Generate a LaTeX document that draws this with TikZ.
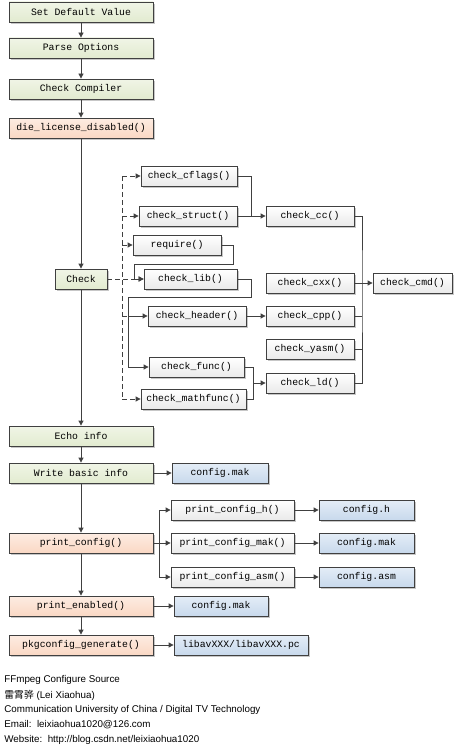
\documentclass[tikz,border=0pt]{standalone}
\usepackage{fontspec}
\setmainfont{Liberation Sans}
\setmonofont{Liberation Mono}
\newfontfamily\cjk{Noto Sans CJK SC}
\usetikzlibrary{arrows.meta,shadows,calc}

\begin{document}
\begin{tikzpicture}[x=1pt, y=-1pt, thick]

  % Define Colors
  \definecolor{linegray}{RGB}{64,64,64}
  \definecolor{greentop}{RGB}{240,245,230}
  \definecolor{greenbot}{RGB}{226,235,208}
  \definecolor{orangetop}{RGB}{253,236,226}
  \definecolor{orangebot}{RGB}{250,216,196}
  \definecolor{bluetop}{RGB}{228,237,247}
  \definecolor{bluebot}{RGB}{200,217,236}
  \definecolor{whitebot}{RGB}{234,234,234}

  % Node styles
  \tikzstyle{cbox}=[rectangle, draw=linegray, line width=0.8pt, minimum height=20pt, inner sep=0pt,
    font=\ttfamily\fontsize{9.8}{10}\selectfont,
    drop shadow={shadow xshift=2pt, shadow yshift=-2pt, fill=black!22, opacity=1}]
  \tikzstyle{cgreen}=[cbox, top color=greentop, bottom color=greenbot, minimum width=144pt]
  \tikzstyle{corange}=[cbox, top color=orangetop, bottom color=orangebot, minimum width=144pt]
  \tikzstyle{cblue}=[cbox, top color=bluetop, bottom color=bluebot]
  \tikzstyle{cwhite}=[cbox, top color=white, bottom color=whitebot]

  \tikzstyle{line}=[draw=linegray, line width=0.8pt]
  \tikzstyle{link}=[line, -{Triangle[length=5pt, width=5pt]}]
  \tikzstyle{dline}=[line, dash pattern=on 5pt off 3pt]
  \tikzstyle{dlink}=[dline, -{Triangle[length=5pt, width=5pt]}]
  \tikzstyle{footer}=[anchor=west, inner sep=0pt, font=\fontsize{9.8}{10}\selectfont]

  \useasboundingbox (0,0) rectangle (456,752);

  % Main column
  \node[cgreen] (n_default) at (81,12) {Set Default Value};
  \node[cgreen] (n_parse) at (81,48) {Parse Options};
  \node[cgreen] (n_compiler) at (81,89) {Check Compiler};
  \node[corange] (n_license) at (81,128) {die\_license\_disabled()};
  \node[cgreen, minimum width=52pt] (n_check) at (81,279) {Check};
  \node[cgreen] (n_echo) at (81,436) {Echo info};
  \node[cgreen] (n_write) at (81,473) {Write basic info};
  \node[corange] (n_printcfg) at (81,543) {print\_config()};
  \node[corange] (n_printen) at (81,606) {print\_enabled()};
  \node[corange] (n_pkgcfg) at (81,645) {pkgconfig\_generate()};

  % Check nodes
  \node[cwhite, minimum width=96pt] (n_cflags) at (189,176) {check\_cflags()};
  \node[cwhite, minimum width=98pt] (n_struct) at (188,216) {check\_struct()};
  \node[cwhite, minimum width=88pt] (n_require) at (177,245) {require()};
  \node[cwhite, minimum width=93pt] (n_lib) at (190.5,279) {check\_lib()};
  \node[cwhite, minimum width=98pt] (n_header) at (197,316) {check\_header()};
  \node[cwhite, minimum width=95pt] (n_func) at (196.5,367) {check\_func()};
  \node[cwhite, minimum width=105pt] (n_mathfunc) at (193.5,399) {check\_mathfunc()};

  \node[cwhite, minimum width=88pt] (n_cc) at (310,216) {check\_cc()};
  \node[cwhite, minimum width=88pt] (n_cxx) at (310,283) {check\_cxx()};
  \node[cwhite, minimum width=88pt] (n_cpp) at (310,316) {check\_cpp()};
  \node[cwhite, minimum width=88pt] (n_yasm) at (310,349) {check\_yasm()};
  \node[cwhite, minimum width=88pt] (n_ld) at (310,383) {check\_ld()};
  \node[cwhite, minimum width=79pt] (n_cmd) at (412.5,283) {check\_cmd()};

  % Output nodes
  \node[cblue, minimum width=96pt] (n_cfgmak1) at (220,473) {config.mak};
  \node[cwhite, minimum width=123pt] (n_pch) at (232.5,510) {print\_config\_h()};
  \node[cwhite, minimum width=123pt] (n_pmak) at (232.5,543) {print\_config\_mak()};
  \node[cwhite, minimum width=123pt] (n_pasm) at (232.5,577) {print\_config\_asm()};
  \node[cblue, minimum width=95pt] (n_cfgh) at (366.5,510) {config.h};
  \node[cblue, minimum width=95pt] (n_cfgmak2) at (366.5,543) {config.mak};
  \node[cblue, minimum width=95pt] (n_cfgasm) at (366.5,577) {config.asm};
  \node[cblue, minimum width=94pt] (n_cfgmak3) at (221,606) {config.mak};
  \node[cblue, minimum width=134pt] (n_libav) at (241,645) {libavXXX/libavXXX.pc};

  % Junctions
  \coordinate (c_split) at (122,279);
  \coordinate (c_rl) at (134,264);
  \coordinate (c_lh) at (128,297);
  \coordinate (c_fl) at (253,383);
  \coordinate (c_bus) at (362,283);
  \coordinate (c_pc) at (159,543);

  % Main links
  \draw[link] (n_default) -- (n_parse);
  \draw[link] (n_parse) -- (n_compiler);
  \draw[link] (n_compiler) -- (n_license);
  \draw[link] (n_license) -- (n_check);
  \draw[link] (n_check) -- (n_echo);
  \draw[link] (n_echo) -- (n_write);
  \draw[link] (n_write) -- (n_printcfg);
  \draw[link] (n_printcfg) -- (n_printen);
  \draw[link] (n_printen) -- (n_pkgcfg);

  % Dashed links
  \draw[dline] (c_split |- n_cflags) -- (c_split |- n_mathfunc);
  \draw[dlink] (n_check.east) -- (n_lib.west);
  \draw[dlink] (c_split |- n_cflags) -- (n_cflags.west);
  \draw[dlink] (c_split |- n_struct) -- (n_struct.west);
  \draw[dlink] (c_split |- n_require) -- (n_require.west);
  \draw[dline] (c_split |- n_header) -- (c_lh |- n_header);
  \draw[dlink] (c_split |- n_mathfunc) -- (n_mathfunc.west);

  % Check links
  \draw[line] (n_cflags.east) -| ($(n_struct.east)!0.5!(n_cc.west)$);
  \draw[link] (n_struct) -- (n_cc);
  \draw[link] (n_require.east) -- ++(12,0) |- (c_rl) |- (n_lib.west);
  \draw[link] (n_lib.east) -- ++(14,0) |- (c_lh) |- (n_func.west);
  \draw[link] (c_lh |- n_header) -- (n_header.west);
  \draw[link] (n_header) -- (n_cpp);
  \draw[line] (n_func.east) -| (c_fl);
  \draw[line] (n_mathfunc.east) -| (c_fl);
  \draw[link] (c_fl) -- (n_ld.west);

  % Compiler links
  \draw[line] (n_cc.east) -| (c_bus) |- (n_ld.east);
  \draw[line] (n_cpp.east) -- (n_cpp.east -| c_bus);
  \draw[line] (n_yasm.east) -- (n_yasm.east -| c_bus);
  \draw[link] (n_cxx) -- (n_cmd);

  % Output links
  \draw[link] (n_write) -- (n_cfgmak1);
  \draw[line] (n_printcfg.east) -- (c_pc);
  \draw[link] (c_pc) |- (n_pch.west);
  \draw[link] (c_pc) -- (n_pmak.west);
  \draw[link] (c_pc) |- (n_pasm.west);
  \draw[link] (n_pch) -- (n_cfgh);
  \draw[link] (n_pmak) -- (n_cfgmak2);
  \draw[link] (n_pasm) -- (n_cfgasm);
  \draw[link] (n_printen) -- (n_cfgmak3);
  \draw[link] (n_pkgcfg) -- (n_libav);

  % Footer
  \node[footer] (t_1) at (4,680) {FFmpeg Configure Source};
  \node[footer] (t_2) at (4,695) {{\cjk 雷霄骅} (Lei Xiaohua)};
  \node[footer] (t_3) at (4,710) {Communication University of China / Digital TV Technology};
  \node[footer] (t_4) at (4,725) {Email:\ \ leixiaohua1020@126.com};
  \node[footer] (t_5) at (4,740) {Website:\ \ http://blog.csdn.net/leixiaohua1020};

\end{tikzpicture}
\end{document}
